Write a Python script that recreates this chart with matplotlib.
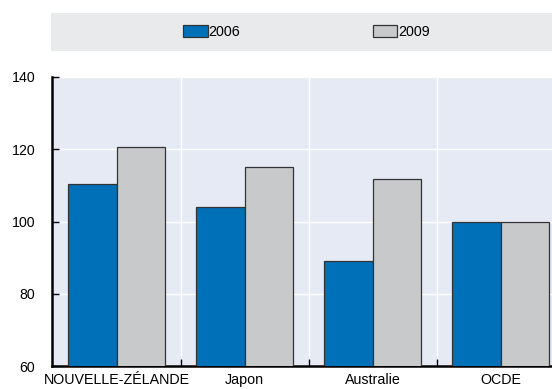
import matplotlib
matplotlib.use("Agg")
import matplotlib.pyplot as plt
import numpy as np
from matplotlib.patches import Patch

plt.rcParams['font.family'] = ['Liberation Sans', 'DejaVu Sans']

categories = ["NOUVELLE-ZÉLANDE", "Japon", "Australie", "OCDE"]
series_names = ["2006", "2009"]
values_2006 = [110.4, 104.0, 89.1, 100.0]
values_2009 = [120.7, 115.1, 111.7, 100.0]
yticks = [60, 80, 100, 120, 140]

blue = "#0070b8"
grey = "#c8c9cb"
bg = "#e6eaf5"

fig = plt.figure(figsize=(5.52, 3.89), dpi=100)
ax = fig.add_axes([52/552, 23/389, 1 - 52/552, (366-77)/389])
ax.set_facecolor(bg)

x = np.arange(len(categories))
w = 0.38
ax.bar(x - w/2, values_2006, width=w, color=blue, edgecolor="#333333", linewidth=0.9, zorder=3, label=series_names[0])
ax.bar(x + w/2, values_2009, width=w, color=grey, edgecolor="#333333", linewidth=0.9, zorder=3, label=series_names[1])

ax.set_ylim(60, 140)
ax.set_xlim(-0.504, 3.40)
ax.set_yticks(yticks)
ax.set_yticklabels([str(t) for t in yticks], fontsize=10.2)
ax.set_xticks(x)
ax.set_xticklabels(categories, fontsize=10.3)
ax.tick_params(axis='x', length=0, pad=5)
ax.tick_params(axis='y', direction='in', length=5, width=1, pad=12)
ax.set_xticks(x[:-1] + 0.5, minor=True)
ax.tick_params(axis='x', which='minor', direction='in', length=5, width=1)

ax.grid(axis='y', color='white', linewidth=1, zorder=0)
ax.grid(axis='x', which='minor', color='white', linewidth=1, zorder=0)
ax.grid(axis='x', which='major', visible=False)

for s in ['top', 'right']:
    ax.spines[s].set_visible(False)
for s in ['left', 'bottom']:
    ax.spines[s].set_linewidth(1.8)
    ax.spines[s].set_color('black')

# legend band
lax = fig.add_axes([51/552, (389-51)/389, 1 - 51/552, 38/389])
lax.set_facecolor("#e9eaec")
lax.set_xticks([]); lax.set_yticks([])
for s in lax.spines.values():
    s.set_visible(False)
handles = [Patch(facecolor=blue, edgecolor="#333333", linewidth=0.9),
           Patch(facecolor=grey, edgecolor="#333333", linewidth=0.9)]
lax.legend(handles, series_names, ncol=2, loc='center', frameon=False,
           fontsize=10.3, handlelength=1.7, handleheight=0.95, handletextpad=0.05,
           columnspacing=9.3, bbox_to_anchor=(0.51, 0.5))

fig.savefig("out.png", dpi=100)
